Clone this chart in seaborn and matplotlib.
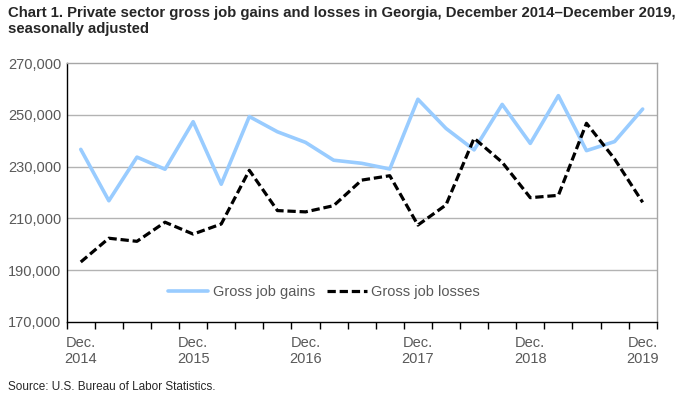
import matplotlib
matplotlib.use("Agg")
import matplotlib.pyplot as plt
import seaborn as sns
import pandas as pd
import numpy as np

quarters = ["Dec. 2014", "Mar. 2015", "Jun. 2015", "Sep. 2015", "Dec. 2015", "Mar. 2016", "Jun. 2016",
            "Sep. 2016", "Dec. 2016", "Mar. 2017", "Jun. 2017", "Sep. 2017", "Dec. 2017", "Mar. 2018",
            "Jun. 2018", "Sep. 2018", "Dec. 2018", "Mar. 2019", "Jun. 2019", "Sep. 2019", "Dec. 2019"]
gains = [236700, 216800, 233700, 229000, 247400, 223200, 249400, 243500, 239400, 232500, 231300,
         229100, 256100, 244800, 236500, 254100, 239000, 257500, 236200, 239700, 252300]
losses = [193100, 202300, 201100, 208500, 203900, 207800, 228600, 213000, 212500, 214900, 224800,
          226500, 207400, 215200, 241000, 231700, 218000, 218900, 246800, 233000, 216200]
tick_labels = ["Dec.\n2014", "Dec.\n2015", "Dec.\n2016", "Dec.\n2017", "Dec.\n2018", "Dec.\n2019"]
y_ticks = [170000, 190000, 210000, 230000, 250000, 270000]

sns.set_theme(style="white")
plt.rcParams['font.family'] = ['Liberation Sans', 'DejaVu Sans']

df = pd.DataFrame({"idx": np.arange(len(quarters)), "quarter": quarters,
                   "Gross job gains": gains, "Gross job losses": losses})

fig = plt.figure(figsize=(6.85, 3.95), dpi=100)
ax = fig.add_axes([0.0974, 0.1856, 0.8613, 0.6541])

for yv in y_ticks[1:-1]:
    ax.axhline(yv, color="#B3B3B3", lw=1, zorder=0)

sns.lineplot(data=df, x="idx", y="Gross job gains", ax=ax, color="#99CCFF", lw=2.6,
             label="Gross job gains")
sns.lineplot(data=df, x="idx", y="Gross job losses", ax=ax, color="black", lw=2.3,
             linestyle=(0, (2.6, 1.2)), label="Gross job losses")

ax.set_xlim(-0.5, len(quarters) - 0.5)
ax.set_ylim(170000, 270000)
ax.set_yticks(y_ticks)
ax.set_yticklabels([f"{v:,}" for v in y_ticks], color="#595959", fontsize=10.5)
ax.set_xticks(np.arange(0, len(quarters), 4))
ax.set_xticklabels(tick_labels, color="#595959", fontsize=10.5, linespacing=1.2)
ax.set_xticks(np.arange(-0.5, len(quarters), 1), minor=True)
ax.tick_params(axis="x", which="major", length=0, pad=10)
ax.tick_params(axis="x", which="minor", length=5, width=1, color="black", direction="out", bottom=True)
ax.tick_params(axis="y", length=0, pad=4)
ax.set_xlabel("")
ax.set_ylabel("")

for s in ["top", "right"]:
    ax.spines[s].set_color("#A6A6A6")
    ax.spines[s].set_linewidth(1)
for s in ["left", "bottom"]:
    ax.spines[s].set_color("black")
    ax.spines[s].set_linewidth(1)

leg = ax.legend(loc="center", bbox_to_anchor=(0.436, 0.115), ncol=2, frameon=False,
                fontsize=10.5, handlelength=2.75, handletextpad=0.3, columnspacing=0.8)
for t in leg.get_texts():
    t.set_color("#595959")

fig.text(0.012, 0.985, "Chart 1. Private sector gross job gains and losses in Georgia, December 2014\u2013December 2019,\nseasonally adjusted",
         fontsize=10.75, fontweight="bold", va="top", ha="left", linespacing=1.2)
fig.text(0.012, 0.02, "Source: U.S. Bureau of Labor Statistics.", fontsize=8.5, va="center", ha="left")

fig.savefig("out.png", dpi=100)
